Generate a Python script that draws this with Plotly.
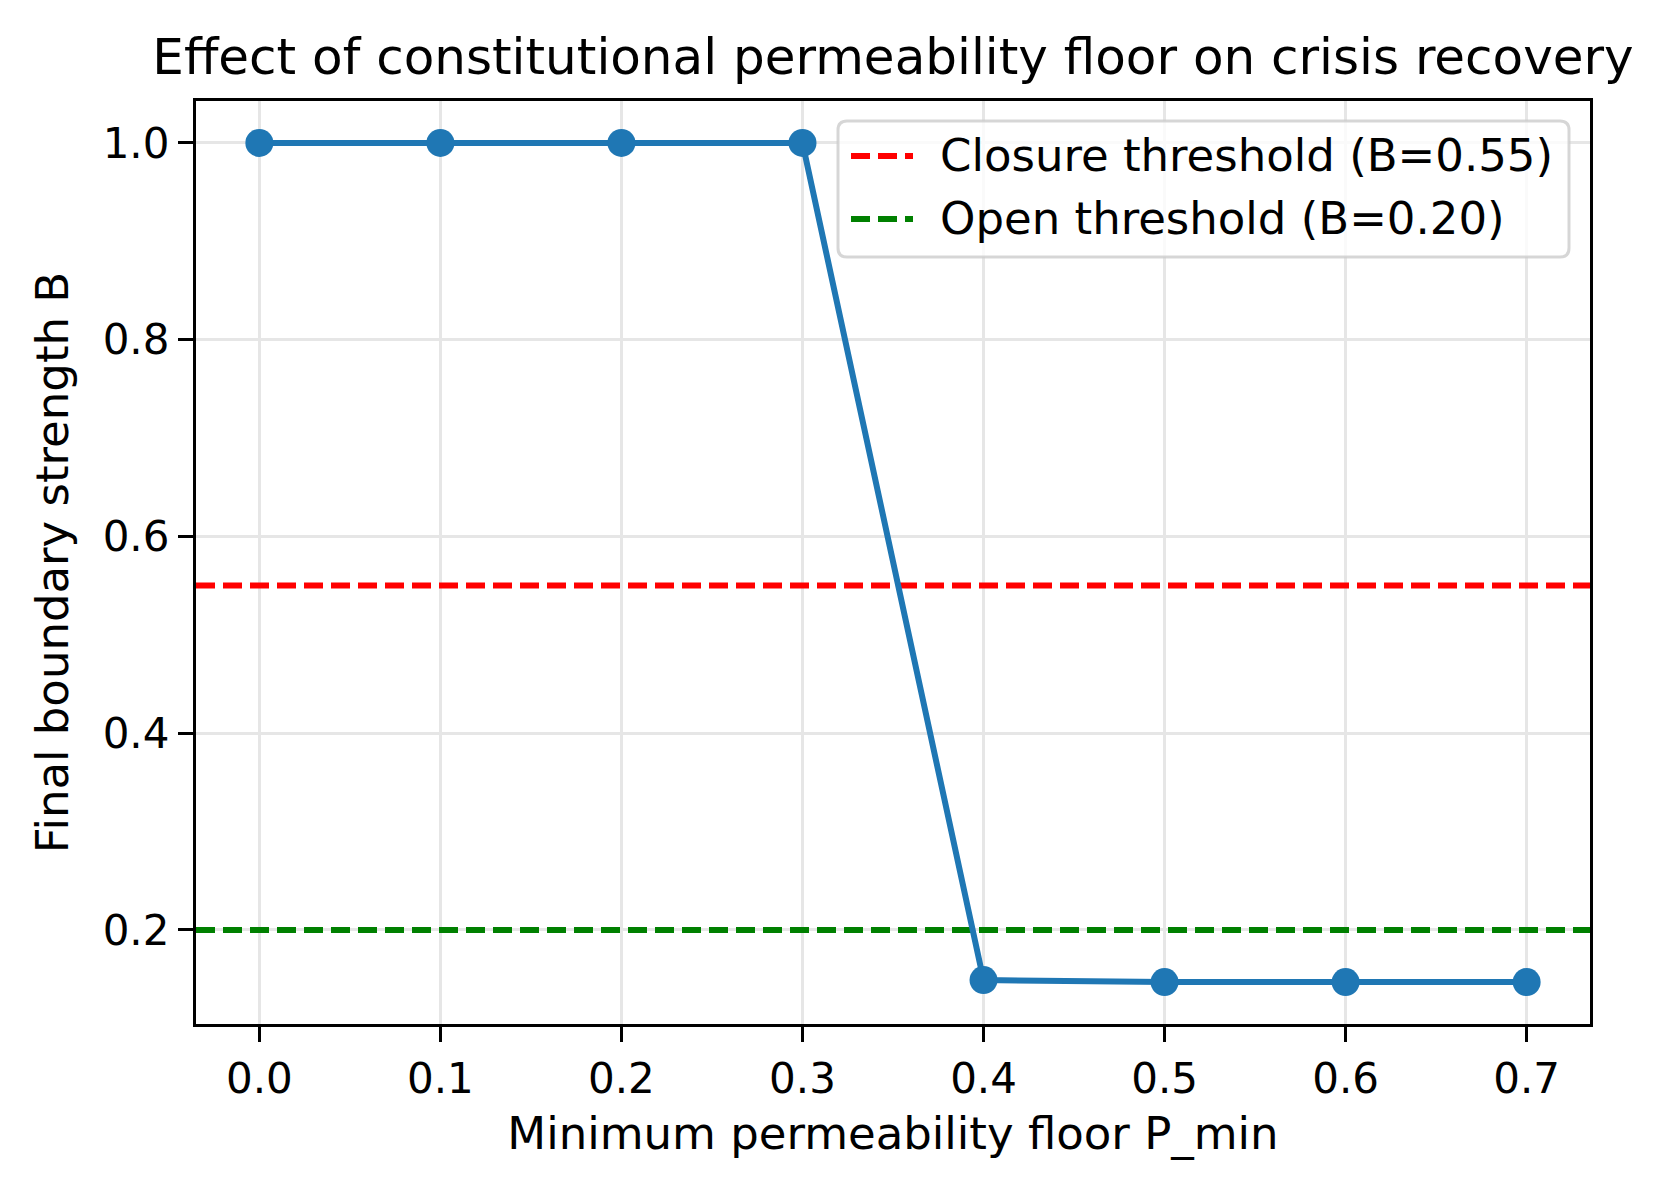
import plotly.graph_objects as go

# Sweep of the permeability floor and final boundary strength
p_min = [0.0, 0.1, 0.2, 0.3, 0.4, 0.5, 0.6, 0.7]
final_b = [1.0, 1.0, 1.0, 1.0, 0.149, 0.147, 0.147, 0.147]

closure_b = 0.55
open_b = 0.20
threshold_names = ["Closure threshold (B=0.55)", "Open threshold (B=0.20)"]
threshold_colors = ["#ff0000", "#008000"]

x_ticks = [0.0, 0.1, 0.2, 0.3, 0.4, 0.5, 0.6, 0.7]
y_ticks = [0.2, 0.4, 0.6, 0.8, 1.0]

# matplotlib-like 5% margins
x_pad = (max(p_min) - min(p_min)) * 0.05
y_pad = (max(final_b) - min(final_b)) * 0.05
x_range = [min(p_min) - x_pad, max(p_min) + x_pad]
y_range = [min(final_b) - y_pad, max(final_b) + y_pad]

FONT = "DejaVu Sans"
W, H = 1656, 1180
ML, MR, MT, MB = 188, 74, 93, 164
DASH = "19px,8px"


def px(x):
    # pixel column -> paper x
    return (x - ML) / (W - ML - MR)


def py(y):
    # pixel row -> paper y
    return (H - MB - y) / (H - MT - MB)


fig = go.Figure()

for val, color in zip([closure_b, open_b], threshold_colors):
    fig.add_trace(go.Scatter(x=x_range, y=[val, val], mode="lines",
                             line=dict(color=color, width=6, dash=DASH),
                             showlegend=False, hoverinfo="skip"))

fig.add_trace(go.Scatter(x=p_min, y=final_b, mode="lines+markers",
                         line=dict(color="#1f77b4", width=6),
                         marker=dict(color="#1f77b4", size=28),
                         showlegend=False))

# hand-built legend box (matplotlib look: rounded frame, long line samples)
bx0, bx1, by0, by1, r = 830, 1561, 113, 249, 9
rx = px(bx0 + r) - px(bx0)
ry = py(by0) - py(by0 + r)
X0, X1, Y0, Y1 = px(bx0), px(bx1), py(by1), py(by0)
path = (f"M{X0 + rx},{Y0} L{X1 - rx},{Y0} Q{X1},{Y0} {X1},{Y0 + ry} "
        f"L{X1},{Y1 - ry} Q{X1},{Y1} {X1 - rx},{Y1} L{X0 + rx},{Y1} "
        f"Q{X0},{Y1} {X0},{Y1 - ry} L{X0},{Y0 + ry} Q{X0},{Y0} {X0 + rx},{Y0} Z")
fig.add_shape(type="path", path=path, xref="paper", yref="paper",
              fillcolor="rgba(255,255,255,0.8)",
              line=dict(color="rgba(204,204,204,0.8)", width=3))

rows = [148, 211]
for name, color, row in zip(threshold_names, threshold_colors, rows):
    fig.add_shape(type="line", xref="paper", yref="paper",
                  x0=px(843), x1=px(905), y0=py(row), y1=py(row),
                  line=dict(color=color, width=6, dash=DASH))
    fig.add_annotation(text=name, xref="paper", yref="paper",
                       x=px(930), y=py(row), xanchor="left", yanchor="middle",
                       showarrow=False,
                       font=dict(family=FONT, size=45, color="black"))

axis_style = dict(showline=True, linecolor="black", linewidth=3.3, mirror=True,
                  ticks="outside", ticklen=15, tickwidth=3.3, tickcolor="black",
                  showgrid=True, gridcolor="#e6e6e6", gridwidth=3.3,
                  zeroline=False, tickfont=dict(family=FONT, size=42, color="black"))

fig.update_layout(
    width=W, height=H,
    paper_bgcolor="white", plot_bgcolor="white",
    margin=dict(l=ML, r=MR, t=MT, b=MB),
    font=dict(family=FONT, color="black"),
    showlegend=False,
    title=dict(text="Effect of constitutional permeability floor on crisis recovery",
               font=dict(family=FONT, size=50, color="black"),
               x=885 / W, xanchor="center", xref="container",
               y=1 - 48 / H, yanchor="middle", yref="container"),
    xaxis=dict(range=x_range, tickvals=x_ticks, tickformat=".1f",
               title=dict(text="Minimum permeability floor P_min",
                          font=dict(family=FONT, size=45), standoff=16),
               **axis_style),
    yaxis=dict(range=y_range, tickvals=y_ticks, tickformat=".1f",
               title=dict(text="Final boundary strength B",
                          font=dict(family=FONT, size=45), standoff=20),
               **axis_style),
)

fig.write_html("out.html")
